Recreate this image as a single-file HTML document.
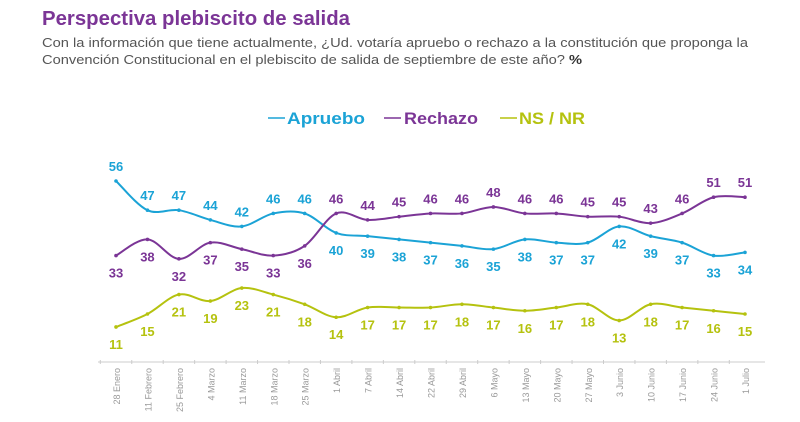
<!DOCTYPE html>
<html><head><meta charset="utf-8"><style>body{margin:0;background:#fff}svg{display:block}</style></head>
<body>
<svg id="s" width="800" height="422" xmlns="http://www.w3.org/2000/svg" font-family="Liberation Sans, sans-serif">
<text x="42" y="25" font-size="20" font-weight="bold" fill="#7b3596" textLength="308" lengthAdjust="spacingAndGlyphs">Perspectiva plebiscito de salida</text>
<text x="42" y="47" font-size="13" fill="#555" textLength="706" lengthAdjust="spacingAndGlyphs">Con la información que tiene actualmente, ¿Ud. votaría apruebo o rechazo a la constitución que proponga la</text>
<text x="42" y="64" font-size="13" fill="#555" textLength="540" lengthAdjust="spacingAndGlyphs">Convención Constitucional en el plebiscito de salida de septiembre de este año? <tspan font-weight="bold" fill="#333">%</tspan></text>
<g font-size="17" font-weight="bold">
<line x1="268" y1="118" x2="285" y2="118" stroke="#1ba3d6" stroke-width="1.5"/><text x="287" y="124" fill="#1ba3d6" textLength="78" lengthAdjust="spacingAndGlyphs">Apruebo</text>
<line x1="384" y1="118" x2="401" y2="118" stroke="#7b3596" stroke-width="1.5"/><text x="404" y="124" fill="#7b3596" textLength="74" lengthAdjust="spacingAndGlyphs">Rechazo</text>
<line x1="500" y1="118" x2="517" y2="118" stroke="#b5c20f" stroke-width="1.5"/><text x="519" y="124" fill="#b5c20f" textLength="66" lengthAdjust="spacingAndGlyphs">NS / NR</text>
</g>
<line x1="98" y1="362" x2="765" y2="362" stroke="#ccc" stroke-width="1"/>
<g id="g"></g>
</svg>
<script>
var A=[56,47,47,44,42,46,46,40,39,38,37,36,35,38,37,37,42,39,37,33,34];
var R=[33,38,32,37,35,33,36,46,44,45,46,46,48,46,46,45,45,43,46,51,51];
var N=[11,15,21,19,23,21,18,14,17,17,17,18,17,16,17,18,13,18,17,16,15];
var D=["28 Enero","11 Febrero","25 Febrero","4 Marzo","11 Marzo","18 Marzo","25 Marzo","1 Abril","7 Abril","14 Abril","22 Abril","29 Abril","6 Mayo","13 Mayo","20 Mayo","27 Mayo","3 Junio","10 Junio","17 Junio","24 Junio","1 Julio"];
function X(i){return 116+i*31.45}
function Y(v){return 181+(56-v)*3.244}
var h="";
function path(a,c){var p=a.map(function(v,i){return[X(i),Y(v)]});var d="M"+p[0][0]+","+p[0][1];
for(var i=0;i<p.length-1;i++){var p0=p[i-1]||p[i],p1=p[i],p2=p[i+1],p3=p[i+2]||p2,t=6;
d+=" C"+(p1[0]+(p2[0]-p0[0])/t)+","+(p1[1]+(p2[1]-p0[1])/t)+" "+(p2[0]-(p3[0]-p1[0])/t)+","+(p2[1]-(p3[1]-p1[1])/t)+" "+p2[0]+","+p2[1];}
h+='<path d="'+d+'" fill="none" stroke="'+c+'" stroke-width="2"/>';
p.forEach(function(q){h+='<circle cx="'+q[0]+'" cy="'+q[1]+'" r="1.8" fill="'+c+'"/>'});}
path(A,"#1ba3d6");path(R,"#7b3596");path(N,"#b5c20f");
function lab(a,c,above){a.forEach(function(v,i){var up=above(i);h+='<text x="'+X(i)+'" y="'+(Y(v)+(up?-10:22))+'" fill="'+c+'" font-size="13" font-weight="bold" text-anchor="middle">'+v+'</text>'});}
lab(A,"#1ba3d6",function(i){return i<7});
lab(R,"#7b3596",function(i){return i>=7});
lab(N,"#b5c20f",function(i){return false});
D.forEach(function(d,i){h+='<line x1="'+(X(i)-15.7)+'" y1="360" x2="'+(X(i)-15.7)+'" y2="364" stroke="#ccc"/>';
h+='<text transform="translate('+(X(i)+4)+',368) rotate(-90)" font-size="9" fill="#999" text-anchor="end">'+d+'</text>'});
document.getElementById("g").innerHTML=h;
</script>
</body></html>
